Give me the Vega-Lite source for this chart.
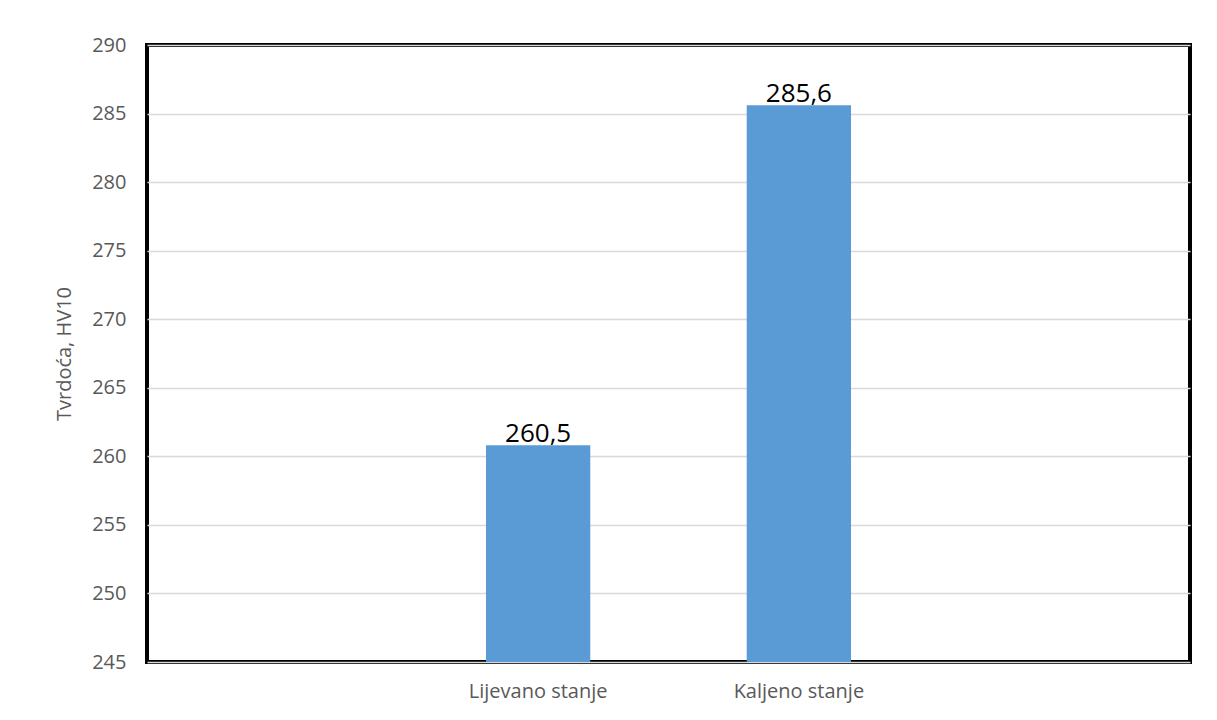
{
  "$schema": "https://vega.github.io/schema/vega-lite/v6.json",
  "width": 1043,
  "height": 617,
  "autosize": "none",
  "padding": {"left": 147, "top": 45, "right": 27, "bottom": 58},
  "background": "white",
  "config": {
    "view": {"stroke": "black", "strokeWidth": 4},
    "font": "Open Sans"
  },
  "data": {
    "values": [
      {"stanje": "Lijevano stanje", "tvrdoca": 260.8, "oznaka": "260,5"},
      {"stanje": "Kaljeno stanje", "tvrdoca": 285.6, "oznaka": "285,6"}
    ]
  },
  "encoding": {
    "x": {
      "field": "stanje",
      "type": "nominal",
      "sort": null,
      "scale": {"domain": [" ", "Lijevano stanje", "Kaljeno stanje", "  "], "paddingInner": 0.6, "paddingOuter": 0.3},
      "axis": {
        "title": null,
        "labelAngle": 0,
        "labelFontSize": 20,
        "labelColor": "#595959",
        "labelPadding": 19,
        "ticks": false,
        "domain": false,
        "grid": false
      }
    },
    "y": {
      "field": "tvrdoca",
      "type": "quantitative",
      "scale": {"domain": [245, 290], "zero": false, "nice": false},
      "axis": {
        "title": "Tvrdoća, HV10",
        "titleFontSize": 20,
        "titleFontWeight": "normal",
        "titleColor": "#595959",
        "titlePadding": 17,
        "values": [245, 250, 255, 260, 265, 270, 275, 280, 285, 290],
        "labelFontSize": 20,
        "labelColor": "#595959",
        "labelPadding": 21,
        "ticks": false,
        "domain": false,
        "grid": true,
        "gridColor": "#d9d9d9",
        "gridWidth": 1.5
      }
    }
  },
  "layer": [
    {"mark": {"type": "bar", "color": "#5B9BD5"}, "encoding": {"y2": {"datum": 245}}},
    {
      "mark": {"type": "text", "baseline": "alphabetic", "dy": -3, "fontSize": 26, "color": "black"},
      "encoding": {"text": {"field": "oznaka"}}
    }
  ]
}
